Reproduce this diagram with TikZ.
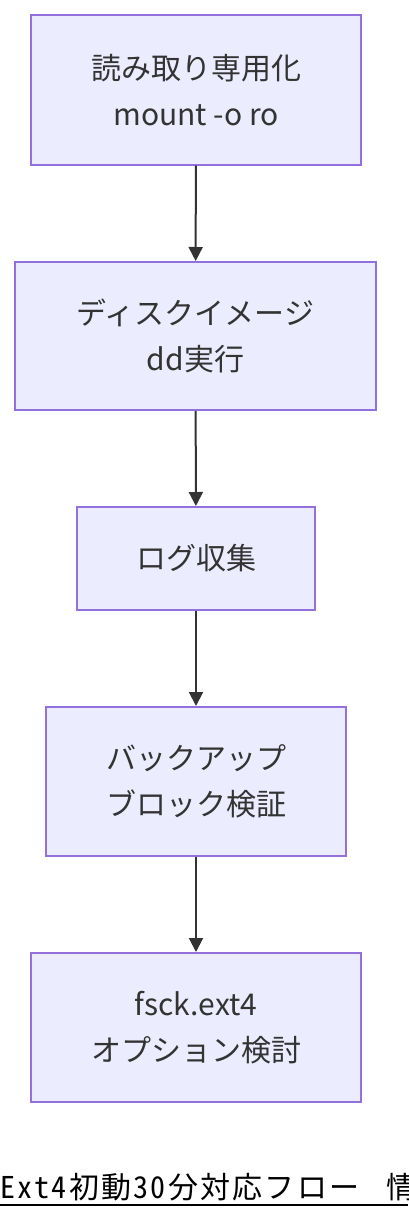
\documentclass[tikz,border=0pt]{standalone}
\usepackage{fontspec}
\setmainfont{Noto Sans CJK JP}
\newfontfamily\titlefont[RawFeature=+hwid,LetterSpace=7.5]{Noto Sans CJK JP}
\usepackage{tikz}
\usetikzlibrary{arrows.meta}
\usepackage{xcolor}
\definecolor{boxfill}{HTML}{ECECFF}
\definecolor{boxline}{HTML}{9370DB}
\definecolor{inkgray}{HTML}{333333}

\begin{document}
\begin{tikzpicture}[x=1pt,y=-1pt,>={Triangle[length=14pt,width=14pt]}]
\tikzset{
    stepbox/.style={%
        draw=boxline, line width=2pt,
        fill=boxfill,
        rectangle,
        align=center,
        text=inkgray,
        font=\fontsize{30pt}{46pt}\selectfont,
        inner sep=0pt
        },
    flow/.style={%
        ->, draw=inkgray, fill=inkgray, line width=2pt
        },
}
\useasboundingbox (0,0) rectangle (408,1228);
\clip (0,0) rectangle (408,1228);
%%%STEPS
\node[stepbox, minimum width=330pt, minimum height=149pt] (ro)     at (196,90)    {読み取り専用化\\mount -o ro};
\node[stepbox, minimum width=361pt, minimum height=148pt] (image)  at (195.5,336) {ディスクイメージ\\dd実行};
\node[stepbox, minimum width=238pt, minimum height=103pt] (logs)   at (196,558.5) {ログ収集};
\node[stepbox, minimum width=300pt, minimum height=149pt] (backup) at (196,781.5) {バックアップ\\ブロック検証};
\node[stepbox, minimum width=330pt, minimum height=149pt] (fsck)   at (196,1027.5) {fsck.ext4\\オプション検討};
%%%TITLE
\node[anchor=base west, inner sep=0pt, text=black,
      font=\titlefont\fontsize{30pt}{36pt}\selectfont] (title) at (0,1198) {Ext4初動30分対応フロー　\kern10pt 情};
\draw[line width=2pt] (0,1205) -- (408,1205);
%%%FLOW
\draw[flow] (ro) -- (image);
\draw[flow] (image) -- (logs);
\draw[flow] (logs) -- (backup);
\draw[flow] (backup) -- (fsck);
\end{tikzpicture}
\end{document}
